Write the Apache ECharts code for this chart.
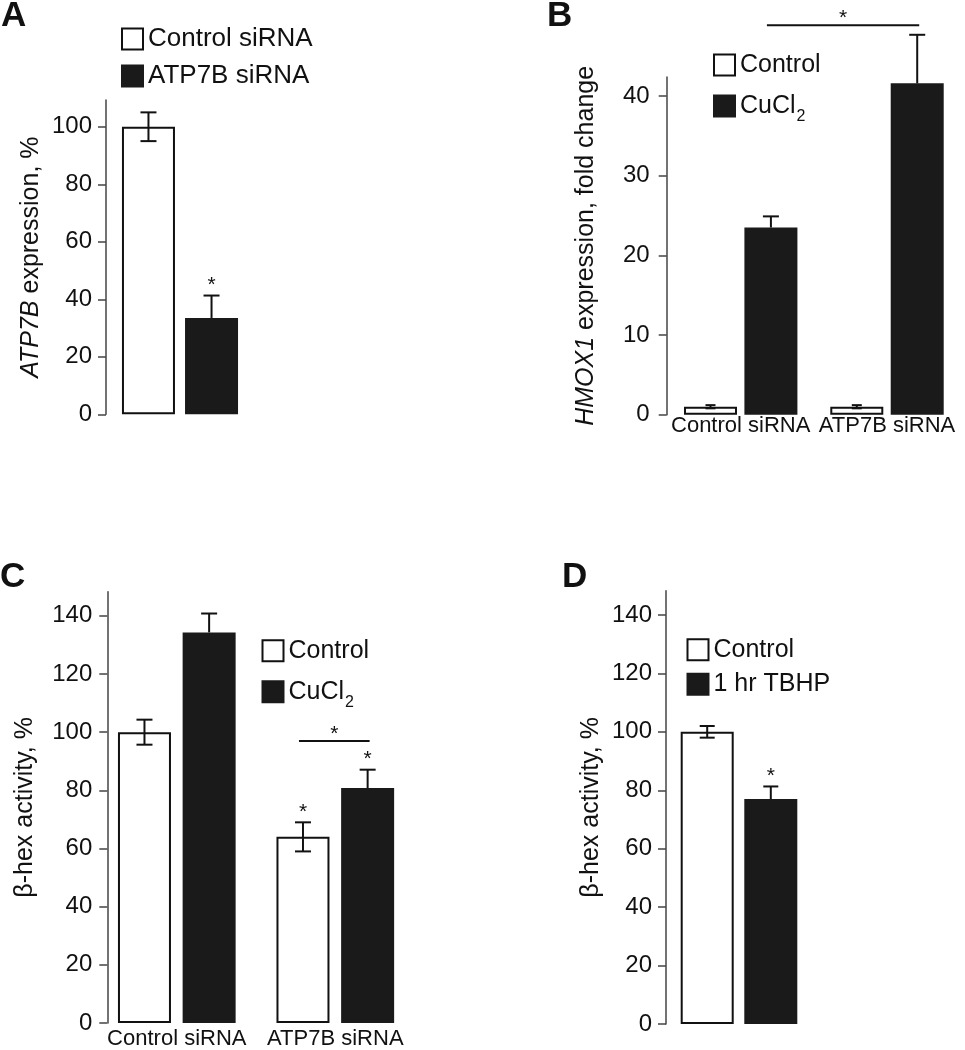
<!DOCTYPE html>
<html><head><meta charset="utf-8">
<script src="https://cdn.jsdelivr.net/npm/echarts@6/dist/echarts.min.js"></script>
<style>html,body{margin:0;padding:0;background:#fff}#c{width:965px;height:1050px}</style>
</head><body><div id="c"></div>
<script>
// ---------- DATA ----------
// Panel A
const catsA = [''];
const ctrlSiA = [100];      const ctrlSiErrA = [5];     const ctrlSiStarA = [0];
const atpSiA = [33.5];      const atpSiErrA = [7.8];    const atpSiStarA = [1];
const ticksA = [0, 20, 40, 60, 80, 100];
// Panel B
const catsB = ['Control siRNA', 'ATP7B siRNA'];
const ctrlB = [1.0, 1.0];   const ctrlErrB = [0.2, 0.2]; const ctrlStarB = [0, 0];
const cuB = [23.5, 41.6];   const cuErrB = [1.4, 6.1];   const cuStarB = [0, 0];
const sigB = [[0, 1, 1, 1, 48.9]]; // [catFrom, seriesFrom, catTo, seriesTo, level]
const ticksB = [0, 10, 20, 30, 40];
// Panel C
const catsC = ['Control siRNA', 'ATP7B siRNA'];
const ctrlC = [100, 64];    const ctrlErrC = [4.3, 5];   const ctrlStarC = [0, 1];
const cuC = [134.3, 80.8];  const cuErrC = [6.5, 6.3];   const cuStarC = [0, 1];
const sigC = [[1, 0, 1, 1, 97]];
const ticksC = [0, 20, 40, 60, 80, 100, 120, 140];
// Panel D
const catsD = [''];
const ctrlD = [100];        const ctrlErrD = [2];        const ctrlStarD = [0];
const tbhpD = [77];         const tbhpErrD = [4.3];      const tbhpStarD = [1];
const ticksD = [0, 20, 40, 60, 80, 100, 120, 140];

// ---------- STYLE ----------
const FONT = "'Liberation Sans', Arial, Helvetica, sans-serif";
const INK = '#111';
const BLACK = '#1a1a1a';
const AXIS = '#444';
const BW = 53;
const panels = [
  {grid:{left:106, width:148, top:100, bottom:635.7}, max:109.3, gap:0.19, offset:0, boundary:true, nameGap:62, labelMargin:14, xMargin:0},
  {grid:{left:740.7, right:78, top:77, bottom:635.3}, max:42.4, gap:0.14, offset:74, boundary:false, nameGap:68, labelMargin:17, xMargin:0},
  {grid:{left:176.8, right:629.7, top:591.7, bottom:25}, max:148.3, gap:0.22, offset:69.5, boundary:false, nameGap:70, labelMargin:15, xMargin:5},
  {grid:{left:666, width:146, top:590.7, bottom:26}, max:148.3, gap:0.20, offset:0, boundary:true, nameGap:62, labelMargin:14, xMargin:0}
];
const cats = [catsA, catsB, catsC, catsD];
const ticks = [ticksA, ticksB, ticksC, ticksD];
const names = ['{i|ATP7B} expression, %', '{i|HMOX1} expression, fold change', 'β-hex activity, %', 'β-hex activity, %'];

const grid = panels.map(p => p.grid);
const xAxis = panels.map((p, k) => ({
  type:'category', gridIndex:k, data:cats[k], boundaryGap:p.boundary,
  axisLine:{show:false}, axisTick:{show:false},
  axisLabel:{fontFamily:FONT, fontSize:22, color:INK, margin:p.xMargin, interval:0}
}));
const yAxis = panels.map((p, k) => ({
  type:'value', gridIndex:k, min:0, max:p.max, offset:p.offset,
  name:names[k], nameLocation:'middle', nameGap:p.nameGap, nameRotate:90,
  nameTextStyle:{fontFamily:FONT, fontSize:25, color:INK, rich:{i:{fontFamily:FONT, fontSize:25, fontStyle:'italic', color:INK}}},
  axisLine:{show:true, lineStyle:{color:AXIS, width:1.5}},
  axisTick:{show:true, length:8, lineStyle:{color:AXIS, width:1.5}, customValues:ticks[k]},
  axisLabel:{fontFamily:FONT, fontSize:24, color:INK, margin:p.labelMargin, customValues:ticks[k]},
  splitLine:{show:false}
}));

function half(k){ return BW * (1 + panels[k].gap) / 2; }
function barSeries(k, name, vals, white){
  return {type:'bar', name:name, xAxisIndex:k, yAxisIndex:k, data:vals, barWidth:BW,
    barGap:(panels[k].gap*100)+'%', clip:false, z:2,
    itemStyle: white ? {color:'#fff', borderColor:INK, borderWidth:2} : {color:BLACK, borderColor:BLACK, borderWidth:2}};
}
// error bars; on the filled (black) bars the lower half is hidden inside the bar, so only the upper half is drawn
function errSeries(k, side, vals, errs, stars, cap, upperOnly){
  const d = half(k) * side;
  return {type:'custom', xAxisIndex:k, yAxisIndex:k, clip:false, z:5, silent:true,
    data: vals.map((v, i) => [i, v, errs[i], stars[i]]),
    renderItem: function(params, api){
      const i = api.value(0), v = api.value(1), e = api.value(2), s = api.value(3);
      const c = api.coord([i, v]);
      const t = api.coord([i, v + e]);
      const b = api.coord([i, v - e]);
      const x = c[0] + d;
      const st = {stroke:INK, lineWidth:2};
      const ch = [
        {type:'line', shape:{x1:x, y1:t[1], x2:x, y2:upperOnly ? c[1] : b[1]}, style:st},
        {type:'line', shape:{x1:x-cap/2, y1:t[1], x2:x+cap/2, y2:t[1]}, style:st}
      ];
      if (!upperOnly) ch.push({type:'line', shape:{x1:x-cap/2, y1:b[1], x2:x+cap/2, y2:b[1]}, style:st});
      if (s) ch.push({type:'text', x:x, y:t[1]-10, style:{text:'*', fontFamily:FONT, fontSize:21, fill:INK, align:'center', verticalAlign:'middle'}});
      return {type:'group', children:ch};
    }};
}
function sigSeries(k, sig){
  const d = half(k);
  return {type:'custom', xAxisIndex:k, yAxisIndex:k, clip:false, z:5, silent:true,
    data: sig,
    renderItem: function(params, api){
      const y = api.value(4);
      const p1 = api.coord([api.value(0), y]);
      const p2 = api.coord([api.value(2), y]);
      const x1 = p1[0] + (api.value(1) ? d : -d) - 4;
      const x2 = p2[0] + (api.value(3) ? d : -d) + 2;
      return {type:'group', children:[
        {type:'line', shape:{x1:x1, y1:p1[1], x2:x2, y2:p1[1]}, style:{stroke:INK, lineWidth:2}},
        {type:'text', x:(x1+x2)/2, y:p1[1]-7, style:{text:'*', fontFamily:FONT, fontSize:21, fill:INK, align:'center', verticalAlign:'middle'}}
      ]};
    }};
}

const series = [
  barSeries(0, 'Control siRNA', ctrlSiA, true), barSeries(0, 'ATP7B siRNA', atpSiA, false),
  errSeries(0, -1, ctrlSiA, ctrlSiErrA, ctrlSiStarA, 16, false), errSeries(0, 1, atpSiA, atpSiErrA, atpSiStarA, 16, true),
  barSeries(1, 'Control', ctrlB, true), barSeries(1, 'CuCl2', cuB, false),
  errSeries(1, -1, ctrlB, ctrlErrB, ctrlStarB, 10, false), errSeries(1, 1, cuB, cuErrB, cuStarB, 16, true), sigSeries(1, sigB),
  barSeries(2, 'Control', ctrlC, true), barSeries(2, 'CuCl2', cuC, false),
  errSeries(2, -1, ctrlC, ctrlErrC, ctrlStarC, 16, false), errSeries(2, 1, cuC, cuErrC, cuStarC, 16, true), sigSeries(2, sigC),
  barSeries(3, 'Control', ctrlD, true), barSeries(3, '1 hr TBHP', tbhpD, false),
  errSeries(3, -1, ctrlD, ctrlErrD, ctrlStarD, 15, false), errSeries(3, 1, tbhpD, tbhpErrD, tbhpStarD, 15, true)
];

const whiteIcon = {color:'#fff', borderColor:INK, borderWidth:2};
const blackIcon = {color:BLACK, borderColor:BLACK, borderWidth:2};
function mkLegend(left, top, gap, n1, n2, fs){
  return {orient:'vertical', left:left, top:top, padding:0, itemGap:gap, itemWidth:21, itemHeight:21,
    icon:'rect', selectedMode:false,
    data:[{name:n1, itemStyle:whiteIcon}, {name:n2, itemStyle:blackIcon}],
    formatter: nm => nm === 'CuCl2' ? 'CuCl{sub|2}' : nm,
    textStyle:{fontFamily:FONT, fontSize:fs, color:INK, lineHeight:25,
      rich:{sub:{fontFamily:FONT, fontSize:16, lineHeight:16, color:INK, padding:[22,0,0,1]}}}};
}
const legend = [
  mkLegend(121, 26, 11, 'Control siRNA', 'ATP7B siRNA', 26),
  mkLegend(713, 52.5, 9.5, 'Control', 'CuCl2', 25),
  mkLegend(261.5, 638.3, 9.4, 'Control', 'CuCl2', 25),
  mkLegend(686.5, 637.3, 9.5, 'Control', '1 hr TBHP', 25)
];

const letter = (t, l, tp) => ({type:'text', left:l, top:tp, style:{text:t, fontFamily:FONT, fontSize:35, fontWeight:'bold', fill:INK}});
const chart = echarts.init(document.getElementById('c'), null, {renderer:'canvas'});
chart.setOption({
  backgroundColor:'#fff', animation:false,
  grid:grid, xAxis:xAxis, yAxis:yAxis, legend:legend, series:series,
  graphic:[letter('A', 1, -1), letter('B', 547, -1), letter('C', 0, 560), letter('D', 562, 560)]
});
</script></body></html>
